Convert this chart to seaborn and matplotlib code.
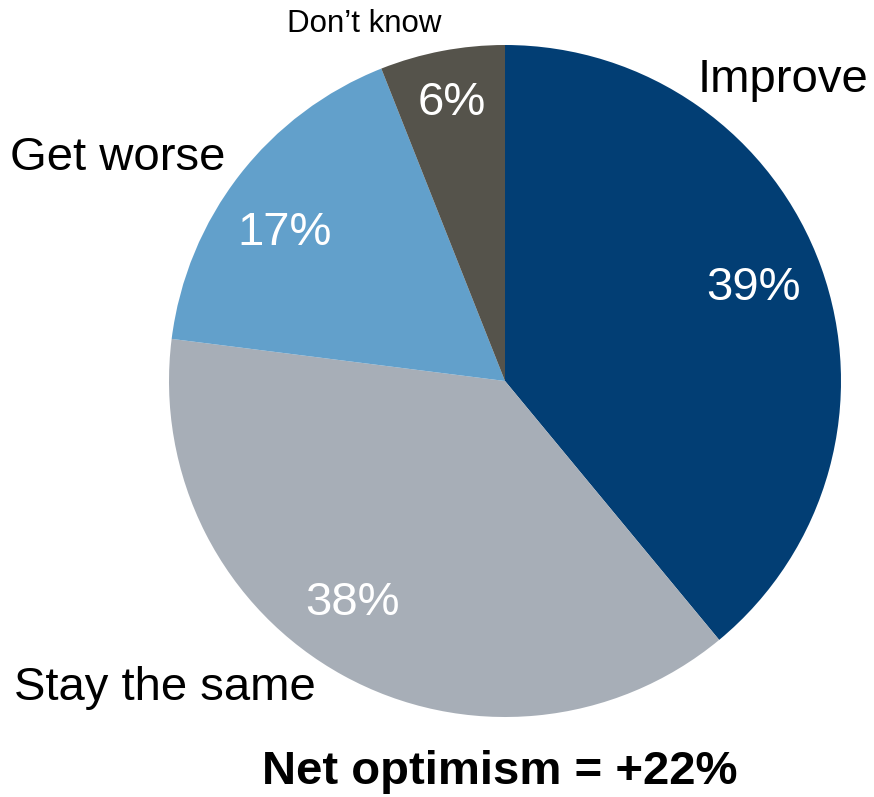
import matplotlib
matplotlib.use("Agg")
import matplotlib.pyplot as plt
import seaborn as sns

categories = ["Improve", "Stay the same", "Get worse", "Don\u2019t know"]
values = [39, 38, 17, 6]
colors = ["#023E74", "#A7AEB7", "#62A0CB", "#55534B"]
title = "Net optimism = +22%"

sns.set_theme(style="white")
plt.rcParams["font.family"] = ["Liberation Sans", "DejaVu Sans"]

W, H = 874, 797
fig = plt.figure(figsize=(W / 100, H / 100), dpi=100)
ax = fig.add_axes([0, 0, 1, 1])

cx, cy, r = 505, H - 381, 336
ax.pie(values, colors=colors, startangle=90, counterclock=False,
       center=(cx, cy), radius=r, frame=True,
       wedgeprops=dict(linewidth=0))
ax.set_xlim(0, W)
ax.set_ylim(0, H)
ax.set_aspect("equal")
ax.axis("off")

# category labels (pixel positions from top-left)
cat_pos = [(783, 80, 34), (165, 688, 34), (118, 158, 34), (364, 24, 22.5)]
for name, (x, y, fs) in zip(categories, cat_pos):
    ax.text(x, H - y, name, ha="center", va="center", fontsize=fs, color="black")

pct_pos = [(753, 288), (352, 603), (285, 233), (452, 103)]
for v, (x, y) in zip(values, pct_pos):
    ax.text(x, H - y, f"{v}%", ha="center", va="center", fontsize=34, color="white")

ax.text(500, H - 772, title, ha="center", va="center", fontsize=34,
        fontweight="bold", color="black")

fig.savefig("out.png", dpi=100)
